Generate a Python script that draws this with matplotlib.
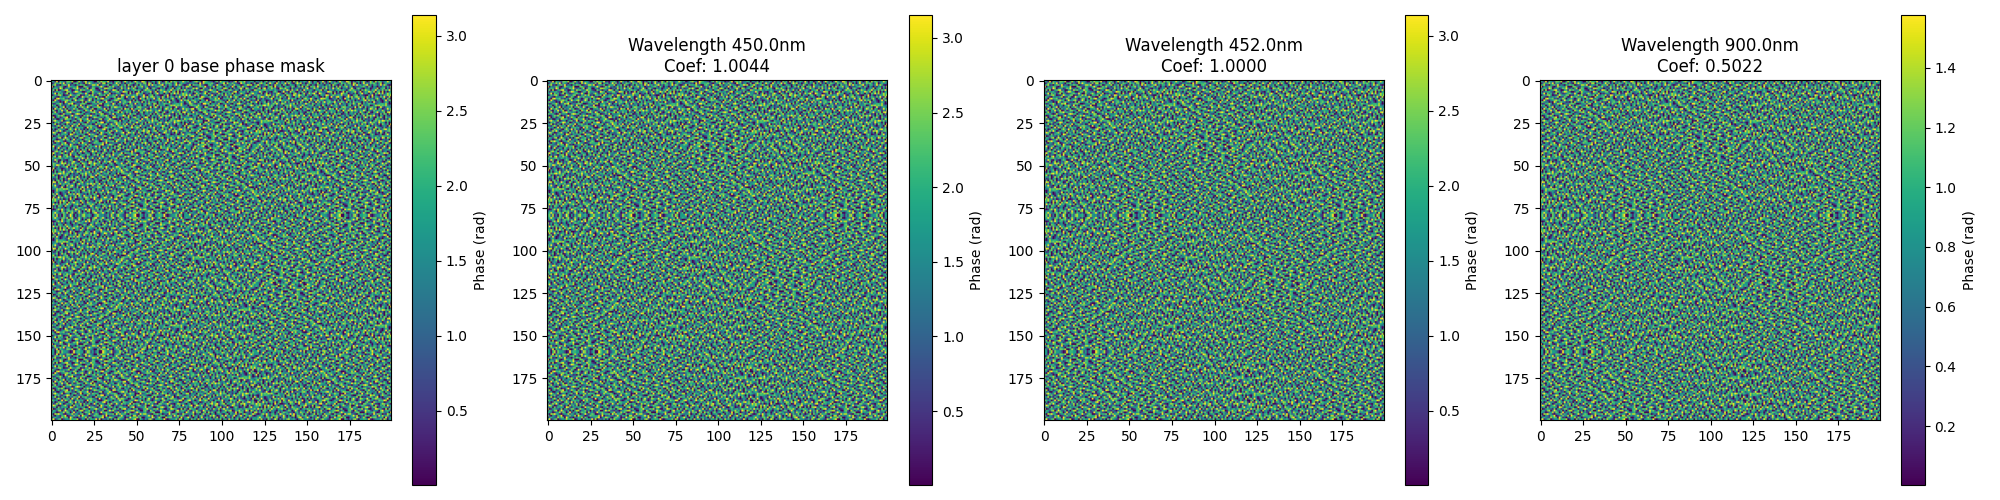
import numpy as np
import matplotlib
matplotlib.use('Agg')
import matplotlib.pyplot as plt

# patch of the mask estimated by eye from the reference, 0 = dark, 9 = yellow
# the real 200x200 mask can't be read cell by cell, so the patch is repeated below
mask_patch = [
    "5506817554201946655038725146009753681245",
    "6419065327768004851692553007486659120567",
    "0275584916530667142085964352718805561493",
    "4681205673914205576601348869025547016658",
    "9053476102865548000775216534696102758341",
    "1566297045513769425158037600541887653024",
    "3708015689240056186743596621075403519860",
    "6145563207751698540026618554320976045577",
    "5590746158063124675395007426851563802145",
    "0264785011596547702164858130665709436581",
    "7631053546802275019657345696120085556704",
    "5408966723154860446302771507589346201659",
    "2095114578660395578214960645302671045786",
    "6753402096157541206085536718456095571320",
    "4126685053879024367750014562780456319605",
    "8560372415506685191406675329010668547241",
    "1347056906245370658529403667851234075986",
    "6095584170634856012765148005563907162453",
    "5720649358016127754086590734125680456017",
    "0481536027795645305612467851960435725568",
    "7656201845540179866045302164587012639054",
    "3015768502169354120758695540376685024715",
    "5804613679051486507326014876525167309846",
    "6250045187662305784569150312780456951003",
    "1796358024504671390546827665041238566750",
    "4065721569836015265108345507699045123784",
    "5580416307152764906673250184563670584296",
    "2316850745609528041365776420915504367618",
    "7645039186274056656109483561002786450535",
    "0502764510685391724050665176348915026764",
    "6138595026457063581724603950655207483195",
    "5974014683150846270658132147096365810452",
    "3460726555098315546401967520684105572603",
    "8015643170561477203865054796325861405746",
    "1652780496326050688145725061437005968321",
    "6530145827604915350476608352195674210568",
    "4087965103558264167025941576002385667095",
    "7205416690134745809653014766558190324451",
    "0564328576096120436581750234679045875106",
    "5913670245485668015407265591803426150738",
]
patch_rot = [0, 1, 2, 3, 1,
             3, 2, 0, 1, 2,
             1, 0, 3, 2, 0,
             2, 3, 1, 0, 3,
             0, 2, 1, 3, 2]
patch_flip = [0, 1, 0, 1, 1,
              1, 0, 0, 1, 0,
              0, 1, 1, 0, 1,
              1, 0, 1, 0, 0,
              0, 0, 1, 1, 0]

titles = ['layer 0 base phase mask', 'Wavelength 450.0nm\nCoef: 1.0044',
          'Wavelength 452.0nm\nCoef: 1.0000', 'Wavelength 900.0nm\nCoef: 0.5022']
coefs = [1.0, 1.0044, 1.0, 0.5022]

patch = 0.005 + np.array([[int(c) for c in row] for row in mask_patch]) / 9 * 3.135

rows = []
for i in range(5):
    row = []
    for j in range(5):
        p = np.rot90(patch, patch_rot[i*5+j])
        if patch_flip[i*5+j]:
            p = np.fliplr(p)
        row.append(p)
    rows.append(np.hstack(row))
base_mask = np.vstack(rows)

fig, axes = plt.subplots(1, 4, figsize=(20, 5))

for ax, title, coef in zip(axes, titles, coefs):
    im = ax.imshow(base_mask * coef, cmap='viridis')
    ax.set_title(title)
    fig.colorbar(im, ax=ax, label='Phase (rad)')

plt.tight_layout()
fig.subplots_adjust(top=0.97, bottom=0.03)
plt.savefig('out.png', dpi=100)
